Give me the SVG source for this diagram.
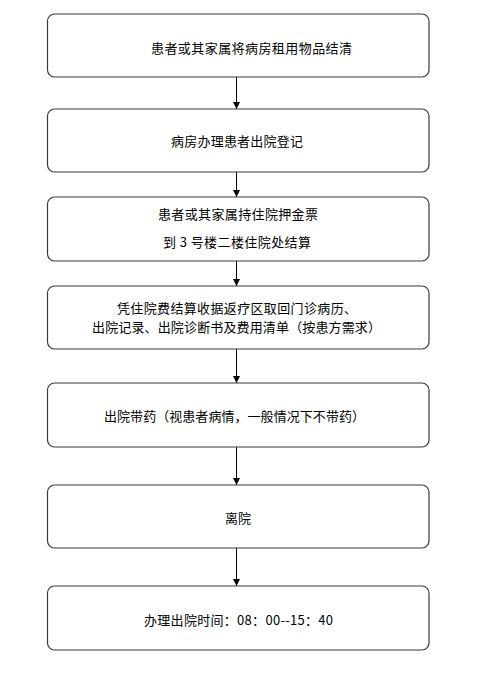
<svg xmlns="http://www.w3.org/2000/svg" width="483" height="678" viewBox="0 0 483 678">
<defs>
<style>
.box{fill:#fff;stroke:#3a3a3a;stroke-width:1.2}
.t{font-family:"Noto Sans CJK SC","Noto Sans",sans-serif;font-size:13px;fill:#000;text-anchor:middle}
.c{stroke:#000;stroke-width:1;fill:none;marker-end:url(#ah)}
</style>
<marker id="ah" markerWidth="8" markerHeight="8" refX="7" refY="4" orient="auto" markerUnits="userSpaceOnUse">
<path d="M0,0.5 L7,4 L0,7.5 Z" fill="#000"/>
</marker>
</defs>
<rect width="483" height="678" fill="#fff"/>
<g id="connectors">
<line class="c" x1="236.5" y1="77" x2="236.5" y2="109"/>
<line class="c" x1="236.5" y1="172" x2="236.5" y2="197"/>
<line class="c" x1="236.5" y1="261" x2="236.5" y2="286"/>
<line class="c" x1="236.5" y1="349" x2="236.5" y2="383"/>
<line class="c" x1="236.5" y1="447" x2="236.5" y2="485"/>
<line class="c" x1="236.5" y1="548" x2="236.5" y2="586"/>
</g>
<g id="n1"><rect class="box" x="47.5" y="14" width="381.5" height="63" rx="7"/>
<text class="t" x="251.5" y="53" textLength="201" lengthAdjust="spacing">患者或其家属将病房租用物品结清</text></g>
<g id="n2"><rect class="box" x="47.5" y="109" width="381.5" height="63" rx="7"/>
<text class="t" x="237" y="146" textLength="132" lengthAdjust="spacing">病房办理患者出院登记</text></g>
<g id="n3"><rect class="box" x="47.5" y="197" width="381.5" height="64" rx="7"/>
<text class="t" x="238" y="219" textLength="160" lengthAdjust="spacing">患者或其家属持住院押金票</text>
<text class="t" x="237" y="247" textLength="148" lengthAdjust="spacing">到 3 号楼二楼住院处结算</text></g>
<g id="n4"><rect class="box" x="47.5" y="286" width="381.5" height="63" rx="7"/>
<text class="t" x="237" y="313" textLength="240" lengthAdjust="spacing">凭住院费结算收据返疗区取回门诊病历、</text>
<text class="t" x="236.5" y="332" textLength="289" lengthAdjust="spacing">出院记录、出院诊断书及费用清单（按患方需求）</text></g>
<g id="n5"><rect class="box" x="47.5" y="383" width="381.5" height="64" rx="7"/>
<text class="t" x="234.5" y="421" textLength="261" lengthAdjust="spacing">出院带药（视患者病情，一般情况下不带药）</text></g>
<g id="n6"><rect class="box" x="47.5" y="485" width="381.5" height="63" rx="7"/>
<text class="t" x="238" y="523" textLength="26" lengthAdjust="spacing">离院</text></g>
<g id="n7"><rect class="box" x="47.5" y="586" width="381.5" height="64" rx="7"/>
<text class="t" x="238.5" y="625" textLength="189" lengthAdjust="spacing">办理出院时间：08：00--15：40</text></g>
</svg>
